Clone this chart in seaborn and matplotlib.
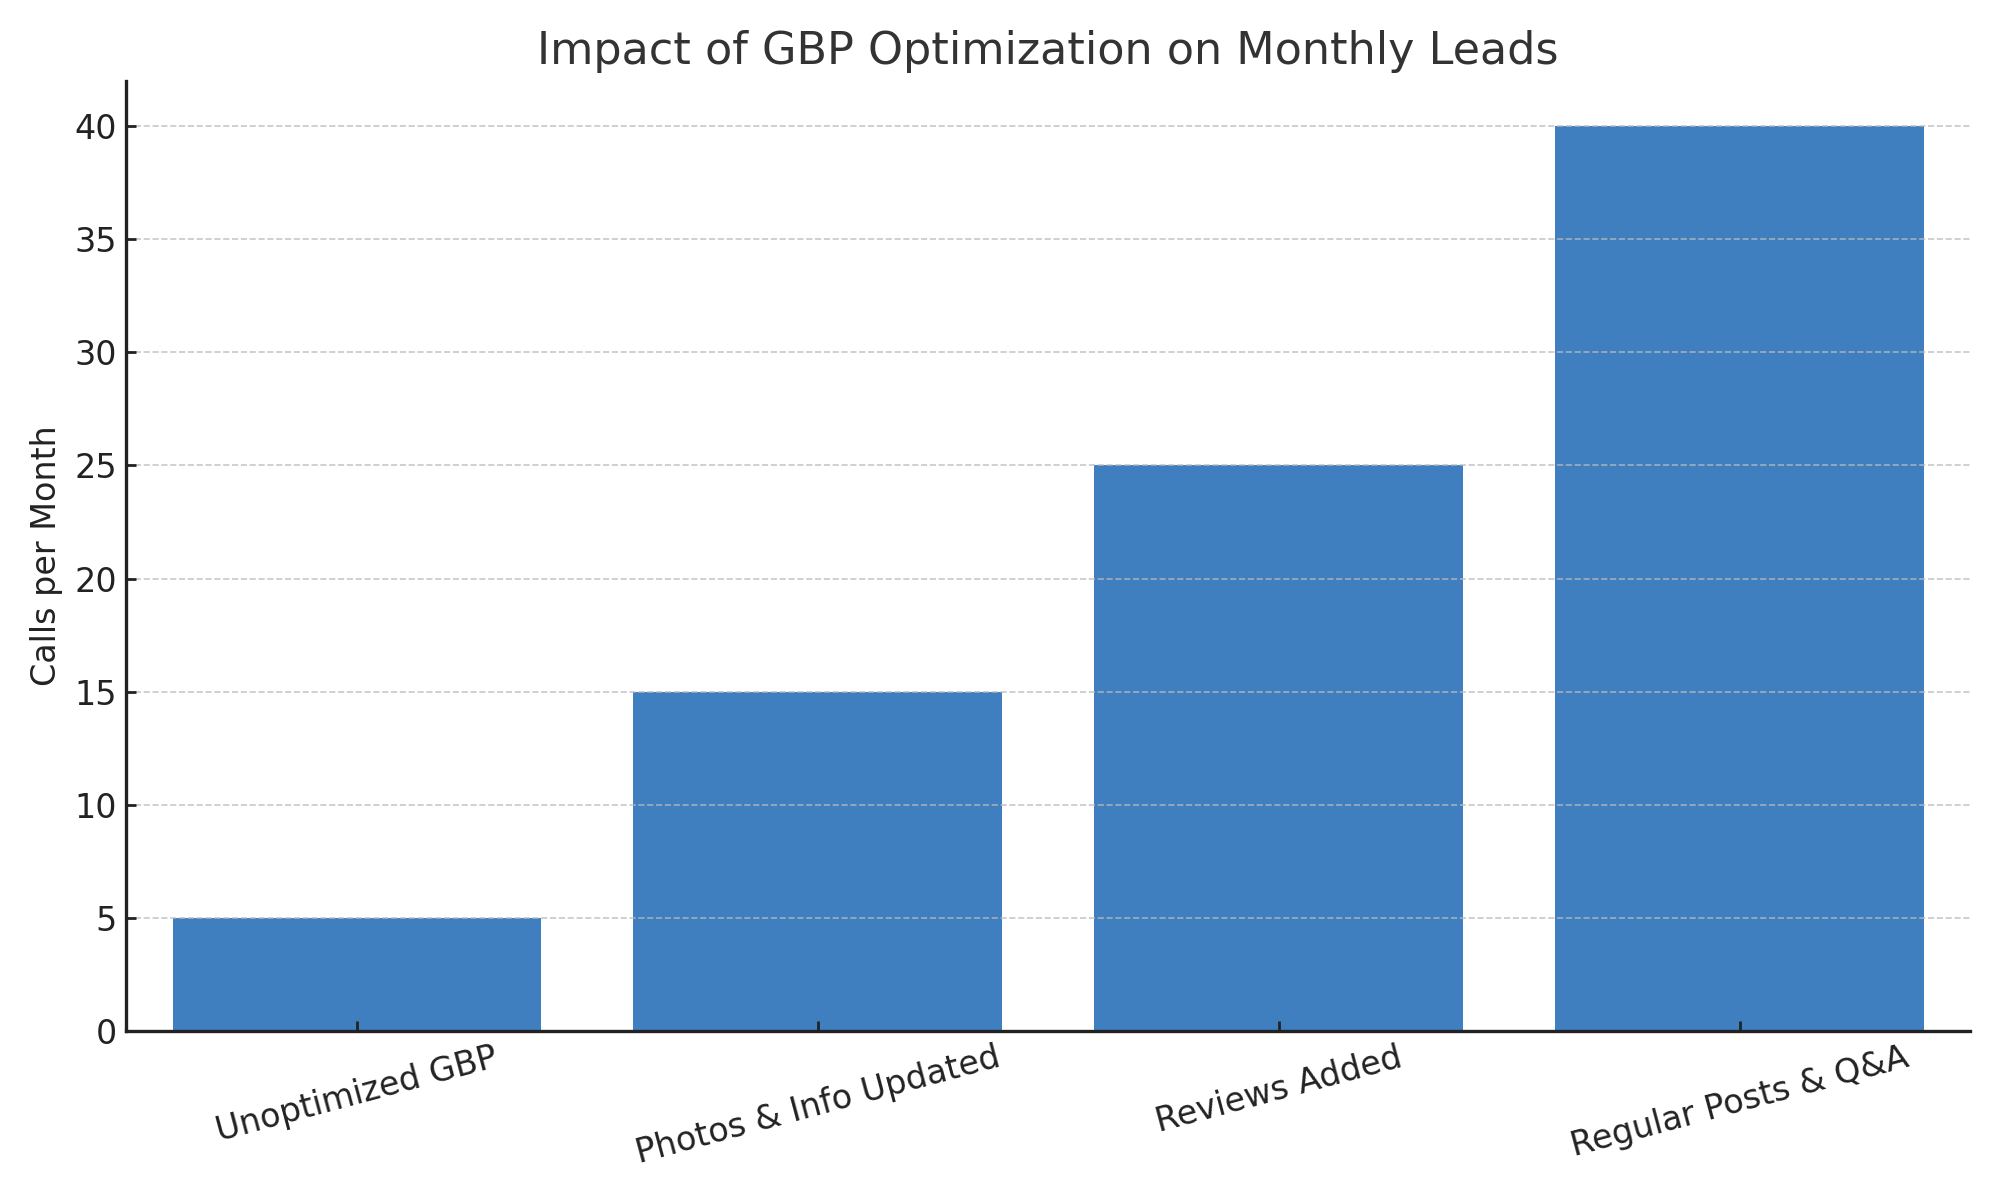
import matplotlib
matplotlib.use("Agg")
import matplotlib.pyplot as plt
import seaborn as sns
import pandas as pd

stages = ["Unoptimized GBP", "Photos & Info Updated", "Reviews Added", "Regular Posts & Q&A"]
calls = [5, 15, 25, 40]

sns.set_style("ticks")
plt.rcParams['font.family'] = ['DejaVu Sans']

df = pd.DataFrame({"stage": stages, "calls": calls})

fig, ax = plt.subplots(figsize=(10, 6), dpi=200)
sns.barplot(data=df, x="stage", y="calls", color="#3F7FBF", saturation=1, width=0.8,
            linewidth=0, ax=ax, zorder=2)
ax.set_ylim(0, 42)
ax.set_xlim(-0.5, 3.5)
ax.yaxis.grid(True, linestyle="--", color="#bbbbbb", alpha=0.8, linewidth=0.6, zorder=3)
ax.set_axisbelow(False)
ax.set_title("Impact of GBP Optimization on Monthly Leads", fontsize=16, color="#333333")
ax.set_ylabel("Calls per Month", fontsize=12, color="#222222")
ax.set_xlabel("")
ax.tick_params(axis="both", direction="in", labelsize=12, color="#222222",
               labelcolor="#222222", width=1)
plt.setp(ax.get_xticklabels(), rotation=15)
sns.despine(ax=ax)
for s in ["left", "bottom"]:
    ax.spines[s].set_linewidth(1.2)
    ax.spines[s].set_color("#222222")
    ax.spines[s].set_zorder(5)
fig.tight_layout()
fig.savefig("out.png", dpi=200)
